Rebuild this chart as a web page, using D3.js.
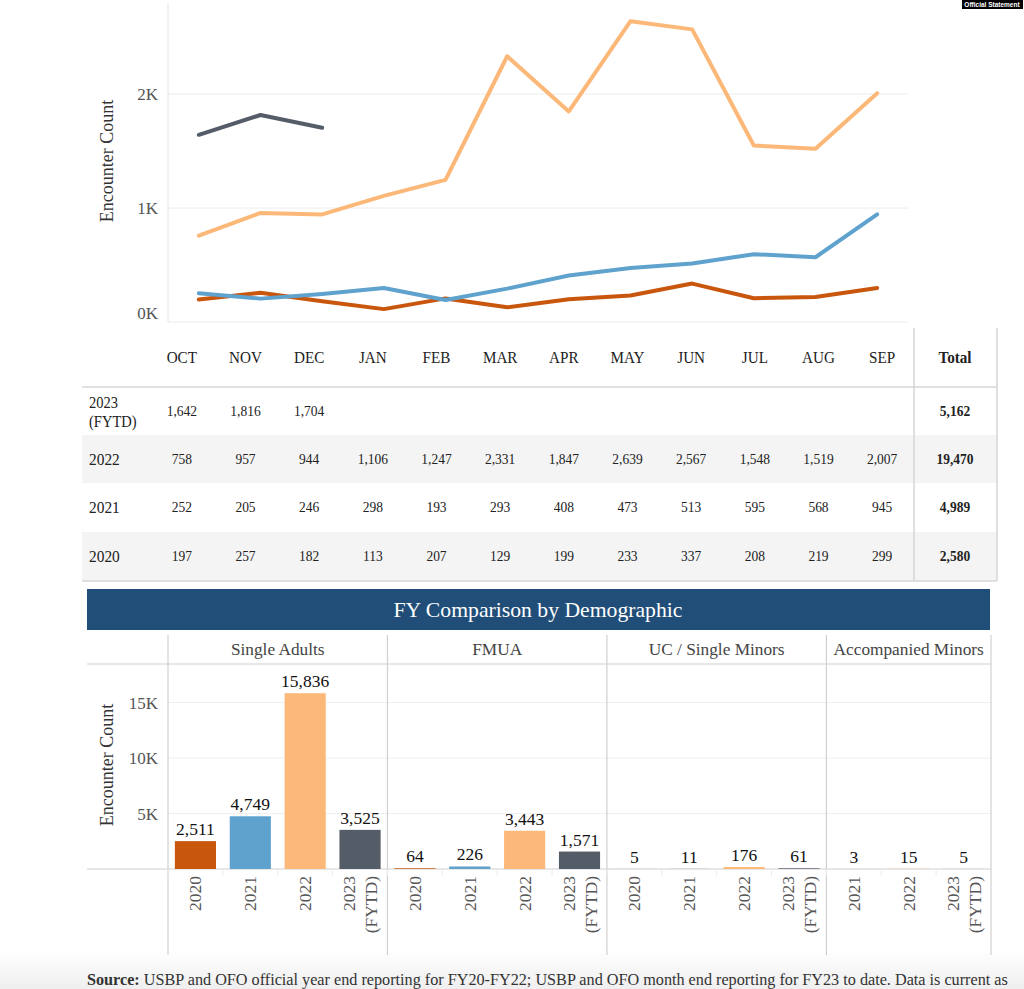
<!DOCTYPE html>
<html><head><meta charset="utf-8">
<script src="https://cdn.jsdelivr.net/npm/d3@7"></script>
<style>
html,body{margin:0;padding:0;background:#fff;}
svg{display:block;font-family:"Liberation Serif","Times New Roman",serif;}
</style></head>
<body><svg id="c" width="1024" height="989"></svg>
<script>
// ---------- DATA ----------
const months = ["OCT","NOV","DEC","JAN","FEB","MAR","APR","MAY","JUN","JUL","AUG","SEP"];
const yearKeys = ["2023","2022","2021","2020"];
const yearLabels = ["2023\n(FYTD)","2022","2021","2020"];
const fy2023 = [1642,1816,1704,null,null,null,null,null,null,null,null,null];
const fy2022 = [758,957,944,1106,1247,2331,1847,2639,2567,1548,1519,2007];
const fy2021 = [252,205,246,298,193,293,408,473,513,595,568,945];
const fy2020 = [197,257,182,113,207,129,199,233,337,208,219,299];
const totals = [5162,19470,4989,2580];
const lineTicks = [0,1000,2000];
const lineTickLabels = ["0K","1K","2K"];

const groups = ["Single Adults","FMUA","UC / Single Minors","Accompanied Minors"];
const groupYears = [
  ["2020","2021","2022","2023"],
  ["2020","2021","2022","2023"],
  ["2020","2021","2022","2023"],
  ["2021","2022","2023"]
];
const singleAdults = [2511,4749,15836,3525];
const fmua = [64,226,3443,1571];
const ucMinors = [5,11,176,61];
const accMinors = [3,15,5];
const barTicks = [5000,10000,15000];
const barTickLabels = ["5K","10K","15K"];

const colors = {"2020":"#c9560d","2021":"#5fa2cd","2022":"#fcb878","2023":"#545c68"};

// ---------- SVG ----------
const svg = d3.select("#c");
const gray = "#555";

// bottom soft gray
const grad = svg.append("defs").append("linearGradient").attr("id","bot").attr("x1",0).attr("x2",0).attr("y1",0).attr("y2",1);
grad.append("stop").attr("offset","0").attr("stop-color","#fff");
grad.append("stop").attr("offset","1").attr("stop-color","#efefef");
svg.append("rect").attr("x",0).attr("y",950).attr("width",1024).attr("height",39).attr("fill","url(#bot)");

// Official statement badge
svg.append("rect").attr("x",962).attr("y",0).attr("width",61).attr("height",9).attr("fill","#000");
svg.append("text").attr("x",992).attr("y",7).attr("text-anchor","middle")
  .attr("font-family","Liberation Sans, Arial, sans-serif").attr("font-size",6.5).attr("font-weight","bold")
  .attr("fill","#fff").text("Official Statement");

// ---------- LINE CHART ----------
const lx = d3.scalePoint().domain(months).range([168,908]).padding(0.5);
const ly = d3.scaleLinear().domain([0,2000]).range([322,94]);

const lg = svg.append("g");
lg.selectAll("line.grid").data(lineTicks).join("line")
  .attr("x1",168).attr("x2",908).attr("y1",d=>ly(d)).attr("y2",d=>ly(d))
  .attr("stroke","#ececec").attr("stroke-width",1);
lg.append("line").attr("x1",168).attr("x2",168).attr("y1",3).attr("y2",322).attr("stroke","#e6e6e6");
lg.selectAll("text.tick").data(lineTicks).join("text")
  .attr("x",158).attr("y",d=>Math.min(ly(d),313)+6).attr("text-anchor","end")
  .attr("font-size",17).attr("fill",gray).text((d,i)=>lineTickLabels[i]);
lg.append("text").attr("transform","translate(113,161) rotate(-90)").attr("text-anchor","middle")
  .attr("font-size",18).attr("fill","#333").text("Encounter Count");

const lineSeries = [
  {k:"2020",v:fy2020},{k:"2021",v:fy2021},{k:"2022",v:fy2022},{k:"2023",v:fy2023}
];
const line = d3.line().defined(d=>d.v!=null).x(d=>lx(d.m)).y(d=>ly(d.v));
lineSeries.forEach(s=>{
  lg.append("path").datum(months.map((m,i)=>({m:m,v:s.v[i]})))
    .attr("d",line).attr("fill","none").attr("stroke",colors[s.k])
    .attr("stroke-width",4).attr("stroke-linejoin","round").attr("stroke-linecap","round");
});

// ---------- TABLE ----------
const tx = d3.scaleBand().domain(months).range([150,914]);
const tg = svg.append("g");
const rowTop = [387,435,483,532];
const rowH = 48.5;
const rowBg = ["#fff","#f4f4f4","#fff","#f4f4f4"];
rowTop.forEach((t,i)=>{
  tg.append("rect").attr("x",82).attr("y",t).attr("width",915).attr("height",rowH).attr("fill",rowBg[i]);
});
tg.append("line").attr("x1",82).attr("x2",997).attr("y1",387).attr("y2",387).attr("stroke","#d6d6d6").attr("stroke-width",1.5);
tg.append("line").attr("x1",82).attr("x2",997).attr("y1",581).attr("y2",581).attr("stroke","#d6d6d6").attr("stroke-width",1.5);
tg.append("line").attr("x1",914).attr("x2",914).attr("y1",328).attr("y2",581).attr("stroke","#d6d6d6").attr("stroke-width",1.5);
tg.append("line").attr("x1",997).attr("x2",997).attr("y1",328).attr("y2",581).attr("stroke","#d6d6d6").attr("stroke-width",1.5);

function ctext(g,x,y,size,sx,txt,opts){
  const t = g.append("text").attr("transform",`translate(${x},${y}) scale(${sx},1)`)
    .attr("font-size",size).attr("fill","#222").attr("text-anchor",opts.anchor||"middle").text(txt);
  if(opts.bold) t.attr("font-weight","bold");
  return t;
}
months.forEach(m=>ctext(tg,tx(m)+tx.bandwidth()/2,362.5,16.5,0.92,m,{}));
ctext(tg,955,362.5,16.5,0.92,"Total",{bold:true});

const rows = [fy2023,fy2022,fy2021,fy2020];
const fmt = d3.format(",");
rows.forEach((r,i)=>{
  const cy = rowTop[i]+rowH/2;
  const lbl = yearLabels[i].split("\n");
  const fs = lbl.length>1 ? 16.5 : 17.5;
  lbl.forEach((t,j)=>{
    ctext(tg,89,cy+6+(j-(lbl.length-1)/2)*19,fs,0.88,t,{anchor:"start"});
  });
  months.forEach((m,j)=>{
    if(r[j]==null) return;
    ctext(tg,tx(m)+tx.bandwidth()/2,cy+5,15,0.9,fmt(r[j]),{});
  });
  ctext(tg,955,cy+5,15,0.9,fmt(totals[i]),{bold:true});
});

// ---------- BAR CHART ----------
const bg = svg.append("g");
bg.append("rect").attr("x",87).attr("y",589).attr("width",903).attr("height",41).attr("fill","#214e78");
bg.append("text").attr("x",538).attr("y",617).attr("text-anchor","middle").attr("font-size",21.7)
  .attr("fill","#fff").text("FY Comparison by Demographic");

const barVals = [singleAdults,fmua,ucMinors,accMinors];
const barData = [];
groups.forEach((g,gi)=>groupYears[gi].forEach((y,yi)=>barData.push({g:g,y:y,v:barVals[gi][yi],key:g+"|"+y})));
const bx = d3.scaleBand().domain(barData.map(d=>d.key)).range([168,991]).paddingInner(0.25).paddingOuter(0.125);
const by = d3.scaleLinear().domain([0,15000]).range([869,702.5]);
const step = bx.step();

// gridlines
bg.selectAll("line.bgrid").data(barTicks).join("line")
  .attr("x1",168).attr("x2",991).attr("y1",d=>by(d)).attr("y2",d=>by(d)).attr("stroke","#efefef");
// panel separators
const bounds = [168];
let acc = 168;
groupYears.forEach(a=>{acc += a.length*step; bounds.push(acc);});
bg.selectAll("line.sep").data(bounds).join("line")
  .attr("x1",d=>d).attr("x2",d=>d).attr("y1",635).attr("y2",955).attr("stroke","#d0d0d0").attr("stroke-width",1.2);
bg.append("line").attr("x1",87).attr("x2",991).attr("y1",664).attr("y2",664).attr("stroke","#d0d0d0").attr("stroke-width",1.2);
bg.append("line").attr("x1",87).attr("x2",991).attr("y1",869).attr("y2",869).attr("stroke","#d0d0d0").attr("stroke-width",1.2);
// band ticks
bg.selectAll("line.bt").data(barData).join("line")
  .attr("x1",d=>bx(d.key)-step*0.125).attr("x2",d=>bx(d.key)-step*0.125)
  .attr("y1",869).attr("y2",876).attr("stroke","#ececec");

// group headers
groups.forEach((g,i)=>{
  bg.append("text").attr("x",(bounds[i]+bounds[i+1])/2).attr("y",655).attr("text-anchor","middle")
    .attr("font-size",17.3).attr("fill","#444").text(g);
});

// y ticks
bg.selectAll("text.bt").data(barTicks).join("text")
  .attr("x",158).attr("y",d=>by(d)+6).attr("text-anchor","end").attr("font-size",17).attr("fill",gray)
  .text((d,i)=>barTickLabels[i]);
bg.append("text").attr("transform","translate(113,765) rotate(-90)").attr("text-anchor","middle")
  .attr("font-size",18).attr("fill","#333").text("Encounter Count");

// bars
bg.selectAll("rect.bar").data(barData).join("rect")
  .attr("x",d=>bx(d.key)).attr("width",bx.bandwidth())
  .attr("y",d=>by(d.v)).attr("height",d=>by(0)-by(d.v)).attr("fill",d=>colors[d.y]);
bg.selectAll("text.val").data(barData).join("text")
  .attr("x",d=>bx(d.key)+bx.bandwidth()/2).attr("y",d=>by(d.v)-6).attr("text-anchor","middle")
  .attr("font-size",17.5).attr("fill","#111").text(d=>fmt(d.v));

// rotated year labels
barData.forEach(d=>{
  const cx = bx(d.key)+bx.bandwidth()/2;
  const lines = d.y==="2023" ? ["2023","(FYTD)"] : [d.y];
  lines.forEach((t,j)=>{
    const off = (j-(lines.length-1)/2)*22;
    bg.append("text").attr("transform",`translate(${cx+off+6},876) rotate(-90)`)
      .attr("text-anchor","end").attr("font-size",17.5).attr("fill",gray).text(t);
  });
});

// source
const src = svg.append("text").attr("x",87).attr("y",984.5).attr("font-size",16.2).attr("fill","#333");
src.append("tspan").attr("font-weight","bold").text("Source:");
src.append("tspan").text(" USBP and OFO official year end reporting for FY20-FY22; USBP and OFO month end reporting for FY23 to date. Data is current as");
</script></body></html>
